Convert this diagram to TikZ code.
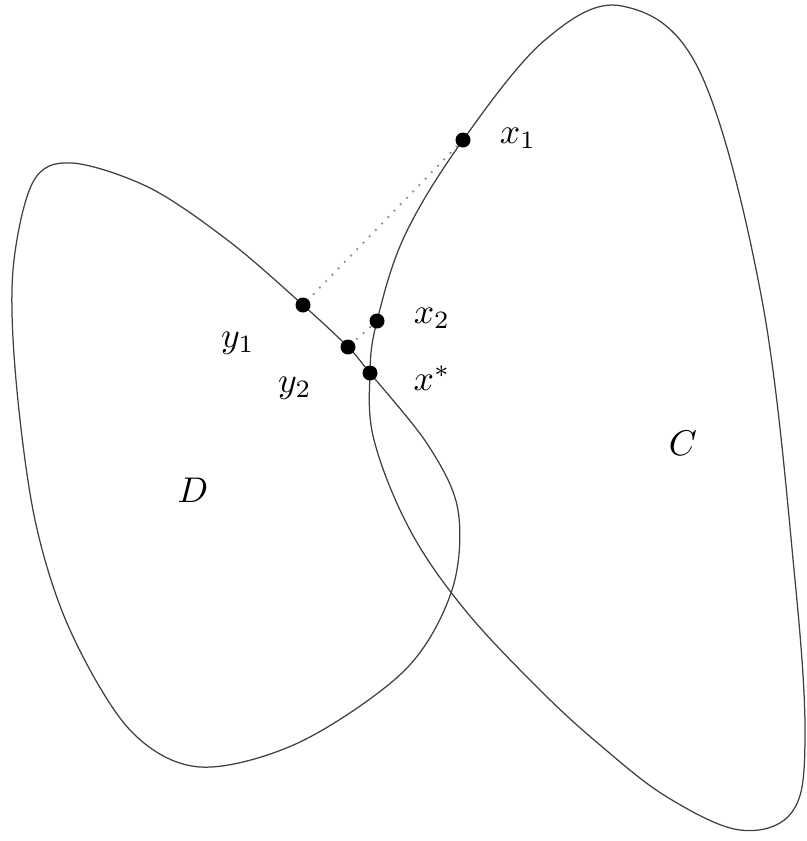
\documentclass[tikz,border=0pt]{standalone}
\begin{document}
\begin{tikzpicture}[x=0.28pt,y=-0.28pt,
  curve/.style={draw=black!75,line width=0.35pt},
  dot/.style={circle,fill=black,inner sep=0pt,minimum size=4.2pt},
  lbl/.style={inner sep=0pt},
  link/.style={draw=black!45,dotted,line width=0.5pt}]
\useasboundingbox (0,0) rectangle (806,841);
% region D
\draw[curve] plot[smooth cycle,tension=0.55] coordinates {
 (370,373) (428,445) (458,510) (452,590) (405,670) (300,742) (200,767)
 (130,730) (70,630) (35,520) (16,380) (13,270) (33,182) (72,163) (150,188)
 (230,242) (303,305) (348,347)};
% region C
\draw[curve] plot[smooth cycle,tension=0.6] coordinates {
 (370,373) (374,440) (410,530) (465,610) (540,690) (600,745) (667,797)
 (740,830) (792,812) (805,740) (795,580) (762,300) (700,72)
 (622,6) (545,40) (463,140) (405,235) (377,321)};
\node[dot] (x1) at (463,140) {};
\node[dot] (x2) at (377,321) {};
\node[dot] (xs) at (370,373) {};
\node[dot] (y1) at (303,305) {};
\node[dot] (y2) at (348,347) {};
\draw[link] (x1) -- (y1);
\draw[link] (x2) -- (y2);
\node[lbl] (lx1) at (518,138) {$x_1$};
\node[lbl] (lx2) at (432,318) {$x_2$};
\node[lbl] (lxs) at (432,378) {$x^*$};
\node[lbl] (ly1) at (238,343) {$y_1$};
\node[lbl] (ly2) at (295,388) {$y_2$};
\node[lbl] (lC) at (683,443) {$C$};
\node[lbl] (lD) at (193,490) {$D$};
\end{tikzpicture}
\end{document}
